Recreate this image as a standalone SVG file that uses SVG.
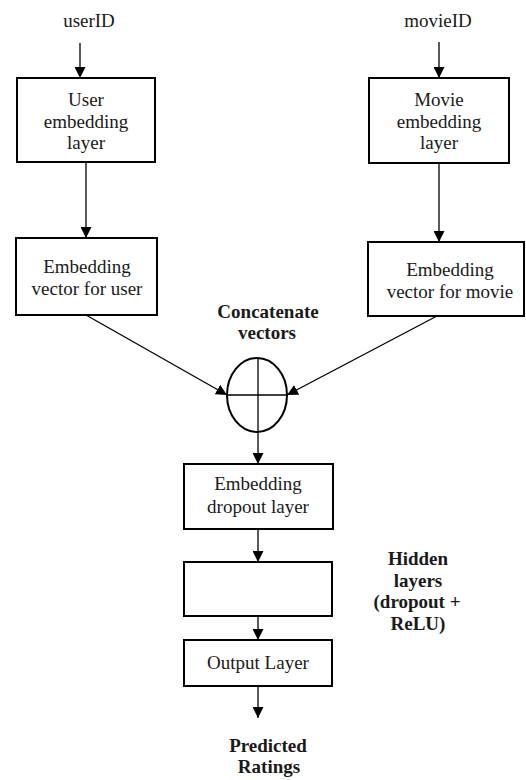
<svg xmlns="http://www.w3.org/2000/svg" width="526" height="780" viewBox="0 0 526 780">
  <style>
    .box { fill: #ffffff; stroke: #000000; stroke-width: 2; }
    .lbl { font-family: "Liberation Serif", "Times New Roman", serif; font-size: 19px; fill: #1a1a1a; text-anchor: middle; }
    .bold { font-weight: bold; }
    .wire { stroke: #000000; stroke-width: 1.3; fill: none; marker-end: url(#head); }
    .cross { stroke: #000000; stroke-width: 1.3; fill: none; }
  </style>
  <defs>
    <marker id="head" viewBox="0 0 10 10" refX="10" refY="5" markerUnits="userSpaceOnUse" markerWidth="11" markerHeight="11" orient="auto">
      <path d="M0,0 L10,5 L0,10 Z" fill="#000000"/>
    </marker>
  </defs>
  <rect width="526" height="780" fill="#ffffff"/>

  <!-- inputs -->
  <g id="userID">
    <text class="lbl" x="89" y="27">userID</text>
  </g>
  <g id="movieID">
    <text class="lbl" x="438" y="27">movieID</text>
  </g>

  <!-- embedding layers -->
  <g id="user-embedding">
    <rect class="box" x="17" y="78" width="138" height="84"/>
    <text class="lbl" x="86" y="106">User</text>
    <text class="lbl" x="86" y="128">embedding</text>
    <text class="lbl" x="86" y="149">layer</text>
  </g>
  <g id="movie-embedding">
    <rect class="box" x="369" y="78" width="140" height="85"/>
    <text class="lbl" x="439" y="106">Movie</text>
    <text class="lbl" x="439" y="128">embedding</text>
    <text class="lbl" x="439" y="149">layer</text>
  </g>

  <!-- embedding vectors -->
  <g id="user-vector">
    <rect class="box" x="16" y="238" width="141" height="77"/>
    <text class="lbl" x="87" y="273">Embedding</text>
    <text class="lbl" x="87" y="295">vector for user</text>
  </g>
  <g id="movie-vector">
    <rect class="box" x="368" y="242" width="156" height="74"/>
    <text class="lbl" x="450" y="276">Embedding</text>
    <text class="lbl" x="450" y="298">vector for movie</text>
  </g>

  <!-- concatenation -->
  <g id="concatenate">
    <text class="lbl bold" x="268" y="318">Concatenate</text>
    <text class="lbl bold" x="267" y="339">vectors</text>
    <ellipse cx="257" cy="395" rx="30" ry="37" fill="#ffffff" stroke="#000000" stroke-width="2"/>
    <line class="cross" x1="227" y1="395" x2="287" y2="395"/>
    <line class="cross" x1="258" y1="358" x2="258" y2="432"/>
  </g>

  <!-- dense stack -->
  <g id="dropout">
    <rect class="box" x="184" y="464" width="149" height="65"/>
    <text class="lbl" x="258" y="490">Embedding</text>
    <text class="lbl" x="258" y="513">dropout layer</text>
  </g>
  <g id="hidden">
    <rect class="box" x="184" y="562" width="148" height="54"/>
  </g>
  <g id="hidden-label">
    <text class="lbl bold" x="418" y="565">Hidden</text>
    <text class="lbl bold" x="418" y="587">layers</text>
    <text class="lbl bold" x="417" y="608">(dropout +</text>
    <text class="lbl bold" x="418" y="630">ReLU)</text>
  </g>
  <g id="output">
    <rect class="box" x="184" y="640" width="148" height="46"/>
    <text class="lbl" x="258" y="669">Output Layer</text>
  </g>
  <g id="prediction">
    <text class="lbl bold" x="268" y="752">Predicted</text>
    <text class="lbl bold" x="269" y="773">Ratings</text>
  </g>

  <!-- connectors -->
  <g id="connectors">
    <line class="wire" x1="80" y1="43" x2="80" y2="78"/>
    <line class="wire" x1="439" y1="42" x2="439" y2="78"/>
    <line class="wire" x1="86" y1="162" x2="86" y2="238"/>
    <line class="wire" x1="439" y1="163" x2="439" y2="242"/>
    <line class="wire" x1="86" y1="315" x2="227" y2="395"/>
    <line class="wire" x1="437" y1="316" x2="287" y2="395"/>
    <line class="wire" x1="258" y1="432" x2="258" y2="464"/>
    <line class="wire" x1="258" y1="529" x2="258" y2="562"/>
    <line class="wire" x1="258" y1="616" x2="258" y2="640"/>
    <line class="wire" x1="258" y1="686" x2="258" y2="718"/>
  </g>
</svg>
